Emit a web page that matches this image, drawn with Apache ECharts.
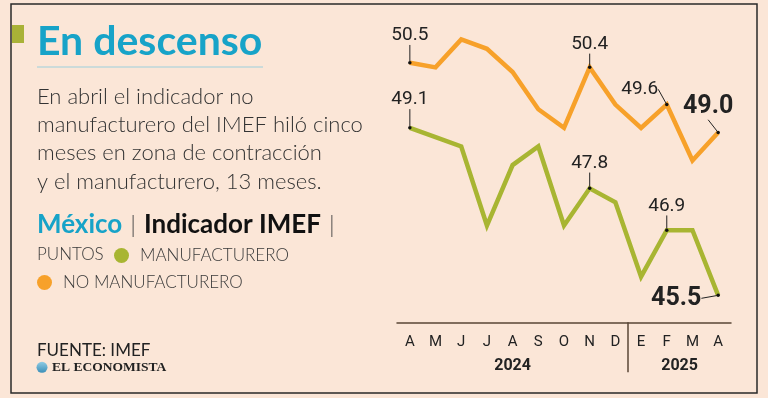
<!DOCTYPE html>
<html>
<head>
<meta charset="utf-8">
<script src="https://cdn.jsdelivr.net/npm/echarts@6/dist/echarts.min.js"></script>
<style>
  html, body { margin: 0; padding: 0; background: #fbe6d7; }
  #chart { width: 768px; height: 398px; }
</style>
</head>
<body>
<div id="chart"></div>
<script>
// datos IMEF abr-2024 .. abr-2025
const months = ['A', 'M', 'J', 'J', 'A', 'S', 'O', 'N', 'D', 'E', 'F', 'M', 'A']
const years = ['2024', '2025']
const yearMonthCounts = [9, 4]
const manufacturero = [49.1, 48.9, 48.7, 47.0, 48.3, 48.7, 47.0, 47.8, 47.5, 45.9, 46.9, 46.9, 45.5]
const noManufacturero = [50.5, 50.4, 51.0, 50.8, 50.3, 49.5, 49.1, 50.4, 49.6, 49.1, 49.6, 48.4, 49.0]

const ORANGE = '#f7a12a'
const GREEN = '#a8b532'
const CYAN = '#17a3c8'
const INK = '#222'
const numFont = '"Liberation Sans Narrow", Roboto, sans-serif'

// where each value label sits (index -> label style + shift)
const orangeLabels = {
  0: { position: 'top', distance: 16 },
  7: { position: 'top', distance: 12 },
  10: { position: 'top', distance: 4, shift: [-27, 0] },
  12: { position: 'top', distance: 11, shift: [-10, 0], big: true }
}
const greenLabels = {
  0: { position: 'top', distance: 17 },
  7: { position: 'top', distance: 14 },
  10: { position: 'top', distance: 13 },
  12: { position: 'left', distance: 15, shift: [0, 3], big: true }
}

function buildData(values, labelMap) {
  return values.map((v, i) => {
    const lab = labelMap[i]
    if (!lab) return { value: v, symbolSize: 0 }
    const label = { show: true, position: lab.position, distance: lab.distance }
    if (lab.big) { label.fontSize = 25; label.fontWeight = 'bold' }
    return {
      value: v,
      symbolSize: 3.5,
      itemStyle: { color: '#111' },
      label: label,
      labelLine: { show: true, lineStyle: { color: INK, width: 1 } }
    }
  })
}

function layoutFor(labelMap) {
  return params => {
    const lab = labelMap[params.dataIndex]
    if (!lab || !lab.shift) return {}
    return { dx: lab.shift[0], dy: lab.shift[1] }
  }
}

// year labels / divider positions on a 0..13 value scale
const yearCenters = []
const yearBreaks = []
let acc = 0
yearMonthCounts.forEach((n, i) => {
  yearCenters.push(acc + n / 2)
  acc += n
  if (i < yearMonthCounts.length - 1) yearBreaks.push(acc)
})

const chart = echarts.init(document.getElementById('chart'))

const seriesLabel = {
  show: false,
  color: INK,
  fontFamily: numFont,
  fontSize: 19,
  formatter: p => p.value.toFixed(1)
}

const legendText = { fontFamily: 'Lato', fontWeight: 300, fontSize: 17, color: '#3a3a3a', padding: [0, 0, 0, 6] }

chart.setOption({
  backgroundColor: '#fbe6d7',
  animation: false,
  grid: { left: 397, right: 37, top: 16.2, bottom: 75.7 },
  legend: [{
    data: ['MANUFACTURERO'],
    left: 114, top: 247, padding: 0,
    icon: 'circle', itemWidth: 15, itemHeight: 15,
    selectedMode: false,
    textStyle: legendText
  }, {
    data: ['NO MANUFACTURERO'],
    left: 37, top: 274, padding: 0,
    icon: 'circle', itemWidth: 15, itemHeight: 15,
    selectedMode: false,
    textStyle: legendText
  }],
  xAxis: [{
    type: 'category',
    data: months,
    boundaryGap: true,
    axisLine: { lineStyle: { color: '#5a4636', width: 1.5 } },
    axisTick: { show: false },
    axisLabel: { color: INK, fontFamily: numFont, fontSize: 15, margin: 12 }
  }, {
    type: 'value',
    min: 0,
    max: months.length,
    position: 'bottom',
    axisLine: { show: false },
    splitLine: { show: false },
    axisTick: {
      show: true,
      customValues: yearBreaks,
      length: 50,
      lineStyle: { color: '#5a4636', width: 1.5 }
    },
    axisLabel: {
      customValues: yearCenters,
      margin: 36,
      color: INK,
      fontFamily: numFont,
      fontWeight: 'bold',
      fontSize: 16,
      formatter: v => years[yearCenters.indexOf(v)] || ''
    }
  }],
  yAxis: { type: 'value', min: 44.92, max: 51.5, show: false },
  series: [{
    name: 'NO MANUFACTURERO',
    type: 'line',
    color: ORANGE,
    symbol: 'circle',
    showAllSymbol: true,
    lineStyle: { color: ORANGE, width: 4.5, join: 'miter' },
    label: seriesLabel,
    labelLayout: layoutFor(orangeLabels),
    emphasis: { disabled: true },
    data: buildData(noManufacturero, orangeLabels)
  }, {
    name: 'MANUFACTURERO',
    type: 'line',
    color: GREEN,
    symbol: 'circle',
    showAllSymbol: true,
    lineStyle: { color: GREEN, width: 4.5, join: 'miter' },
    label: seriesLabel,
    labelLayout: layoutFor(greenLabels),
    emphasis: { disabled: true },
    data: buildData(manufacturero, greenLabels)
  }],
  graphic: [
    { type: 'rect', silent: true, shape: { x: 11, y: 4, width: 746, height: 389 },
      style: { fill: 'none', stroke: '#2a2a2a', lineWidth: 1.5 } },
    { type: 'rect', silent: true, shape: { x: 12, y: 25, width: 12, height: 18 }, style: { fill: '#a9b237' } },
    { type: 'text', x: 37, y: 41.5, style: {
      text: 'En descenso', fill: CYAN, fontFamily: 'Lato', fontWeight: 'bold', fontSize: 41, verticalAlign: 'middle' } },
    { type: 'line', silent: true, shape: { x1: 37, y1: 67, x2: 263, y2: 67 },
      style: { stroke: '#9ccfdc', lineWidth: 1 } },
    { type: 'text', x: 37, y: 82.5, style: {
      text: 'En abril el indicador no\nmanufacturero del IMEF hiló cinco\nmeses en zona de contracción\ny el manufacturero, 13 meses.',
      fill: '#333', fontFamily: 'Lato', fontWeight: 300, fontSize: 22, lineHeight: 28.3, verticalAlign: 'top' } },
    { type: 'text', x: 37, y: 225, style: {
      text: '{c|México}{p||}{b|Indicador IMEF}{p||}',
      verticalAlign: 'middle',
      rich: {
        c: { fill: CYAN, fontFamily: 'Lato', fontWeight: 'bold', fontSize: 26 },
        b: { fill: '#111', fontFamily: 'Lato', fontWeight: 'bold', fontSize: 26 },
        p: { fill: '#444', fontFamily: 'Lato', fontWeight: 300, fontSize: 24, padding: [0, 8, 0, 8] }
      } } },
    { type: 'text', x: 37, y: 255, style: {
      text: 'PUNTOS', fill: '#3a3a3a', fontFamily: 'Lato', fontWeight: 300, fontSize: 17, verticalAlign: 'middle' } },
    { type: 'text', x: 37, y: 351, style: {
      text: 'FUENTE: IMEF', fill: INK, fontFamily: 'Lato', fontSize: 17, verticalAlign: 'middle' } },
    { type: 'circle', silent: true, shape: { cx: 42, cy: 367.3, r: 5.5 },
      style: { fill: new echarts.graphic.LinearGradient(0, 0, 0, 1, [
        { offset: 0, color: '#8fcbe4' }, { offset: 1, color: '#3b8fb8' }]) } },
    { type: 'text', x: 52, y: 367.5, style: {
      text: 'EL ECONOMISTA', fill: INK, fontFamily: 'Liberation Serif', fontWeight: 'bold', fontSize: 13.5, verticalAlign: 'middle' } }
  ]
})
</script>
</body>
</html>
